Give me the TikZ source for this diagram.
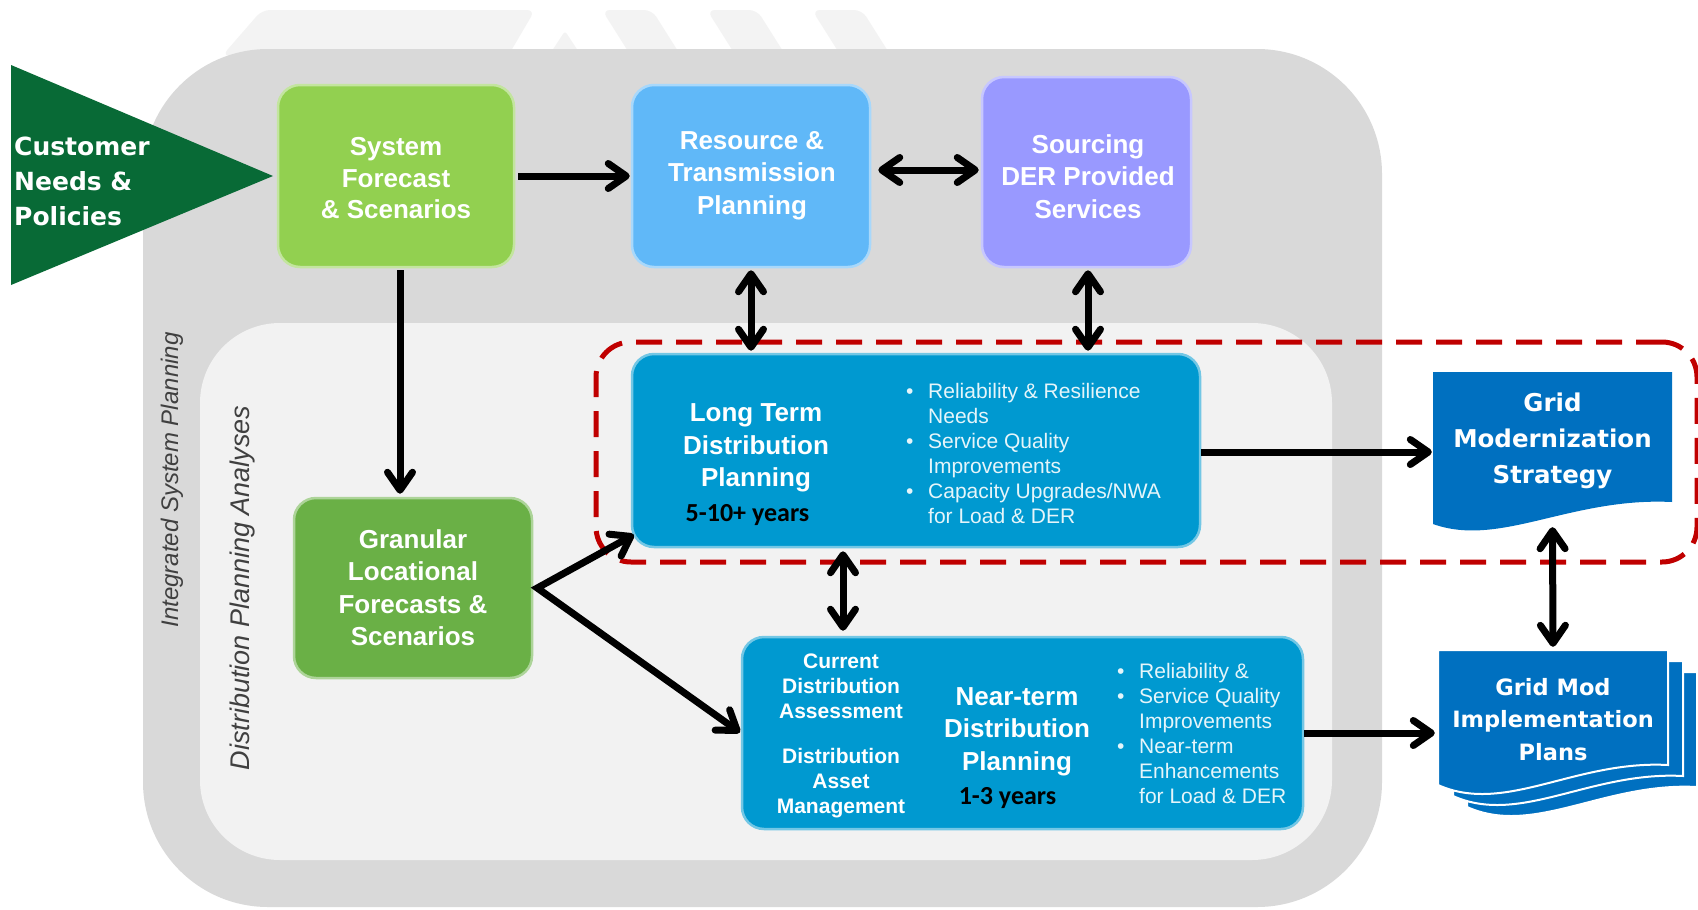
\documentclass[tikz,border=0pt]{standalone}
\usepackage{fontspec}
\setmainfont{Liberation Sans}
\newfontfamily\widefont{DejaVu Sans}
\newfontfamily\yearfont{Carlito}
\usetikzlibrary{arrows.meta,calc}

\definecolor{outergray}{RGB}{217,217,217}
\definecolor{innergray}{RGB}{242,242,242}
\definecolor{logogray}{RGB}{243,243,243}
\definecolor{custgreen}{RGB}{8,106,54}
\definecolor{lightgreen}{RGB}{146,208,80}
\definecolor{midgreen}{RGB}{106,176,70}
\definecolor{skyblue}{RGB}{96,184,248}
\definecolor{lavender}{RGB}{153,153,255}
\definecolor{planblue}{RGB}{0,153,208}
\definecolor{docblue}{RGB}{0,112,192}
\definecolor{focusred}{RGB}{192,0,0}

% stacked lines, first baseline at the node's base anchor
\newcommand\textlines[2][c]{\begin{tabular}[t]{@{}#1@{}}#2\end{tabular}}
\newcommand\bulmark{\makebox[22pt][l]{\textbullet}}
\newcommand\bulskip{\hspace*{22pt}}

\begin{document}
\begin{tikzpicture}[x=1pt,y=-1pt,
  panel/.style={rounded corners=22pt, line width=2.5pt, inner sep=0pt},
  headtext/.style={text=white, font=\bfseries\fontsize{26}{32.5}\selectfont, inner sep=0pt, anchor=base},
  smalltext/.style={text=white, font=\bfseries\fontsize{21}{25}\selectfont, inner sep=0pt, anchor=base},
  bullettext/.style={text=white!90!planblue, font=\fontsize{21}{25.1}\selectfont, inner sep=0pt, anchor=base west},
  yeartext/.style={text=black, font=\yearfont\bfseries\fontsize{26}{30}\selectfont, inner sep=0pt, anchor=base},
  widetext/.style={text=white, inner sep=0pt, anchor=base},
  sidetext/.style={text=black!75, inner sep=0pt, rotate=90},
  tipshape/.tip={Straight Barb[length=18pt,width=25pt,round]},
  arr/.style={line width=7pt, -tipshape},
  dbl/.style={line width=7pt, tipshape-tipshape},
  page/.style={fill=docblue, draw=white, line width=2pt},
]
% canvas
\fill[white] (0,0) rectangle (1698,910);
\useasboundingbox (0,0) rectangle (1698,910);

% faint logo shapes behind the frame
\fill[logogray, rounded corners=8pt] (222,56) -- (262,10) -- (535,10) -- (508,56) -- cycle;
\fill[logogray, rounded corners=3pt] (546,60) -- (565,31) -- (584,60) -- cycle;
\fill[logogray, rounded corners=8pt] (602,10) -- (652,10) -- (681,56) -- (631,56) -- cycle;
\fill[logogray, rounded corners=8pt] (707,10) -- (757,10) -- (786,56) -- (736,56) -- cycle;
\fill[logogray, rounded corners=8pt] (812,10) -- (862,10) -- (891,56) -- (841,56) -- cycle;

% nested planning frames
\fill[outergray, rounded corners=125pt] (143,49) rectangle (1382,907);
\fill[innergray, rounded corners=80pt] (200,323) rectangle (1332,860);

\node[sidetext, font=\itshape\fontsize{24}{28}\selectfont] (isp) at (172,480) {Integrated System Planning};
\node[sidetext, font=\itshape\fontsize{27}{31}\selectfont] (dpa) at (243,588) {Distribution Planning Analyses};

% customer input
\fill[custgreen] (11,65) -- (273,176) -- (11,285) -- cycle;
\node[widetext, anchor=base west, font=\widefont\bfseries\fontsize{25}{35}\selectfont] (cust) at (14,155)
  {\textlines[l]{Customer\\Needs \&\\Policies}};

% planning boxes
\node[panel, fill=lightgreen, draw=lightgreen!55!white, minimum width=236pt, minimum height=182pt] (sys) at (396,176) {};
\node[panel, fill=skyblue, draw=skyblue!55!white, minimum width=238pt, minimum height=182pt] (res) at (751,176) {};
\node[panel, fill=lavender, draw=lavender!55!white, minimum width=209pt, minimum height=190pt] (src) at (1086.5,172) {};
\node[panel, fill=midgreen, draw=midgreen!55!white, minimum width=238pt, minimum height=180pt] (gran) at (413,588) {};
\node[panel, fill=planblue, draw=planblue!55!white, minimum width=568pt, minimum height=193pt] (lt) at (916,450.5) {};
\node[panel, fill=planblue, draw=planblue!55!white, minimum width=561pt, minimum height=192pt] (nt) at (1022.5,733) {};

\node[headtext, font=\bfseries\fontsize{26}{31.5}\selectfont] (systxt) at (396,155.5) {\textlines{System\\Forecast\\\& Scenarios}};
\node[headtext] (restxt) at (752,149) {\textlines{Resource \&\\Transmission\\Planning}};
\node[headtext] (srctxt) at (1088,153) {\textlines{Sourcing\\DER Provided\\Services}};
\node[headtext] (grantxt) at (413,548) {\textlines{Granular\\Locational\\Forecasts \&\\Scenarios}};

\node[headtext] (lttxt) at (756,421.5) {\textlines{Long Term\\Distribution\\Planning}};
\node[yeartext] (ltyears) at (747.5,521.5) {5-10+ years};
\node[bullettext] (ltbul) at (906,398.3) {\textlines[l]{\bulmark Reliability \& Resilience\\\bulskip Needs\\\bulmark Service Quality\\\bulskip Improvements\\\bulmark Capacity Upgrades/NWA\\\bulskip for Load \& DER}};

\node[smalltext] (ntleft) at (841,668) {\textlines{Current\\Distribution\\Assessment\\[20pt]Distribution\\Asset\\Management}};
\node[headtext] (nttxt) at (1017,705) {\textlines{Near-term\\Distribution\\Planning}};
\node[yeartext] (ntyears) at (1007.5,804) {1-3 years};
\node[bullettext] (ntbul) at (1117,678.3) {\textlines[l]{\bulmark Reliability \&\\\bulmark Service Quality\\\bulskip Improvements\\\bulmark Near-term\\\bulskip Enhancements\\\bulskip for Load \& DER}};

% strategy document
\fill[docblue] (1433,372) -- (1672,372) -- (1672,502) .. controls (1570,497) and (1500,548) .. (1433,524) -- cycle;
\node[inner sep=0pt, minimum width=239pt, minimum height=160pt] (gms) at (1552.5,452) {};
\node[widetext, font=\widefont\bfseries\fontsize{24.5}{36}\selectfont] (gmstxt) at (1552.5,411.7) {\textlines{Grid\\Modernization\\Strategy}};

% stack of implementation plan pages
\filldraw[page] (1467,672) -- (1697,672) -- (1697,787) .. controls (1604,782) and (1534,837) .. (1467,807) -- cycle;
\filldraw[page] (1453,661) -- (1683,661) -- (1683,776) .. controls (1590,771) and (1520,826) .. (1453,796) -- cycle;
\filldraw[page] (1438,650) -- (1668,650) -- (1668,765) .. controls (1575,760) and (1505,815) .. (1438,785) -- cycle;
\node[inner sep=0pt, minimum width=230pt, minimum height=142pt] (gmip) at (1553,721) {};
\node[widetext, font=\widefont\bfseries\fontsize{22.5}{32.5}\selectfont] (gmiptxt) at (1553,695) {\textlines{Grid Mod\\Implementation\\Plans}};

% long-term focus outline
\node[draw=focusred, line width=5pt, dash pattern=on 26pt off 14pt, rounded corners=35pt,
      minimum width=1101pt, minimum height=220pt, inner sep=0pt] (focus) at (1146.5,452) {};

% connectors
\draw[arr, shorten <=3pt, shorten >=1pt] (sys.east) -- (res.west);
\draw[dbl, shorten <=7pt, shorten >=2pt] ([yshift=6pt]res.east) -- ([yshift=6pt]res.east -| src.west);
\draw[dbl, shorten <=2pt, shorten >=2pt] (res.south) -- (res.south |- lt.north);
\draw[dbl, shorten <=2pt, shorten >=2pt] ([xshift=1.5pt]src.south) -- ([xshift=1.5pt]src.south |- lt.north);
\draw[arr, shorten <=2pt, shorten >=3pt] ([xshift=4pt]sys.south) -- ([xshift=4pt]sys.south |- gran.north);
\draw[dbl, miter limit=4, shorten <=1pt, shorten >=1pt] ([xshift=4pt,yshift=14pt]lt.south west) -- ([xshift=4pt]gran.east) -- (nt.west);
\draw[dbl, shorten <=3pt, shorten >=5pt] ([xshift=-73pt]lt.south) -- ([xshift=-73pt]lt.south |- nt.north);
\draw[arr, shorten >=1pt] (lt.east |- gms.west) -- (gms.west);
\draw[arr, shorten >=3pt] (nt.east) -- (nt.east -| gmip.west);
\draw[dbl, shorten >=3pt] ([yshift=5pt]gms.south) -- (gmip.north);
\end{tikzpicture}
\end{document}
